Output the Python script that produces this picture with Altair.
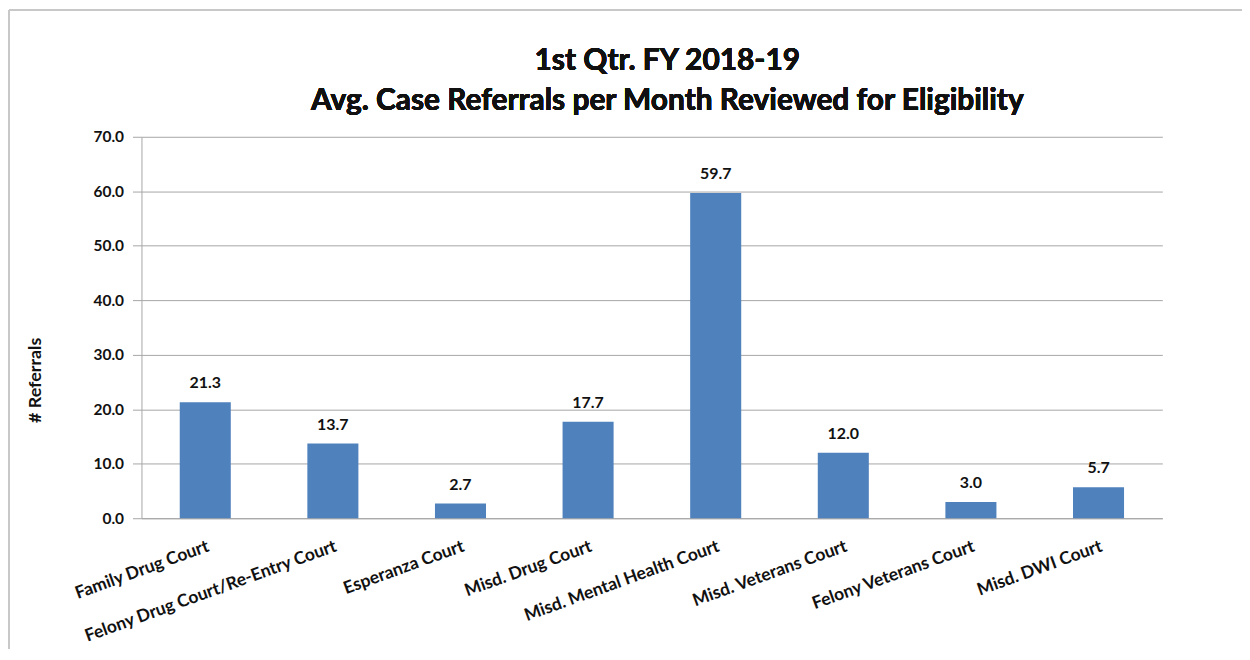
import altair as alt
import pandas as pd

courts = ["Family Drug Court", "Felony Drug Court/Re-Entry Court", "Esperanza Court",
          "Misd. Drug Court", "Misd. Mental Health Court", "Misd. Veterans Court",
          "Felony Veterans Court", "Misd. DWI Court"]
referrals = [21.3, 13.7, 2.7, 17.7, 59.7, 12.0, 3.0, 5.7]
title_lines = ["1st Qtr. FY 2018-19", "Avg. Case Referrals per Month Reviewed for Eligibility"]

df = pd.DataFrame({"court": courts, "referrals": referrals})

FONT = "Lato"
GRID = "#a6a6a6"
INK = "#111111"

base = alt.Chart(df)

bars = base.mark_bar(color="#4F81BD").encode(
    x=alt.X("court:N", sort=courts,
            scale=alt.Scale(paddingInner=0.6, paddingOuter=0.3),
            axis=alt.Axis(title=None, labelAngle=-20, labelAlign="right",
                          labelBaseline="top", labelPadding=19, ticks=False,
                          domainColor=GRID, labelFont=FONT, labelFontSize=17.5,
                          labelFontWeight="bold", labelColor=INK,
                          labelLimit=400)),
    y=alt.Y("referrals:Q", scale=alt.Scale(domain=[0, 70]),
            axis=alt.Axis(title="# Referrals", values=[0, 10, 20, 30, 40, 50, 60, 70],
                          format=".1f", gridColor=GRID, domainColor=GRID,
                          tickColor=GRID, tickSize=9, labelPadding=9,
                          labelFont=FONT, labelFontSize=15.5, labelFontWeight="bold",
                          labelColor=INK, titleFont=FONT, titleFontSize=18,
                          titleFontWeight="bold", titleColor=INK,
                          titleAngle=-90, titleX=-106, titleY=244,
                          titleAlign="center", titleBaseline="middle")),
)

labels = base.mark_text(baseline="middle", dy=-19, font=FONT, fontSize=16,
                        fontWeight="bold", color=INK).encode(
    x=alt.X("court:N", sort=courts),
    y=alt.Y("referrals:Q"),
    text=alt.Text("referrals:Q", format=".1f"),
)

title1 = base.mark_text(font=FONT, fontSize=30, fontWeight="bold", color=INK,
                        align="center", baseline="middle").encode(
    x=alt.value(528), y=alt.value(-76), text=alt.value(title_lines[0]))
title2 = base.mark_text(font=FONT, fontSize=30, fontWeight="bold", color=INK,
                        align="center", baseline="middle").encode(
    x=alt.value(528), y=alt.value(-36), text=alt.value(title_lines[1]))

frame_top = base.mark_rule(color="#c8c8c8", strokeWidth=1.5).encode(
    x=alt.value(-133), x2=alt.value(1200), y=alt.value(-127))
frame_left = base.mark_rule(color="#c8c8c8", strokeWidth=1.5).encode(
    x=alt.value(-133), y=alt.value(-127), y2=alt.value(600))

chart = alt.layer(frame_top, frame_left, bars, labels, title1, title2).properties(
    width=1025, height=383,
    padding={"left": 134, "top": 128, "right": 80, "bottom": 130},
    autosize=alt.AutoSizeParams(type="none"),
).configure(background="white").configure_view(stroke="transparent")

chart.save("out.html", embed_options={"renderer": "svg", "actions": False})
